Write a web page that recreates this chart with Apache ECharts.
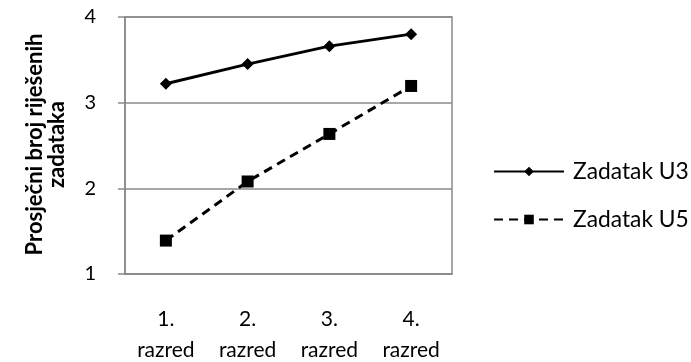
<!DOCTYPE html>
<html><head><meta charset="utf-8">
<script src="https://cdn.jsdelivr.net/npm/echarts@6/dist/echarts.min.js"></script>
<style>html,body{margin:0;padding:0;background:#fff}#c{width:691px;height:362px}</style>
</head><body><div id="c"></div>
<script>
const categories = ['1.\nrazred', '2.\nrazred', '3.\nrazred', '4.\nrazred'];
const seriesNames = ['Zadatak U3', 'Zadatak U5'];
const valuesU3 = [3.22, 3.45, 3.66, 3.80];
const valuesU5 = [1.39, 2.08, 2.635, 3.195];
const yTicks = [1, 2, 3, 4];
const yAxisTitle = 'Prosječni broj riješenih\nzadataka';

const font = 'Lato, "Open Sans", sans-serif';
const chart = echarts.init(document.getElementById('c'));
chart.setOption({
  animation: false,
  backgroundColor: '#fff',
  grid: { left: 125, right: 239, top: 17, bottom: 88, show: true, borderColor: '#8a8a8a', borderWidth: 1.5, containLabel: false, outerBoundsMode: 'none' },
  legend: {
    orient: 'vertical', left: 493, top: 160, padding: 0, itemGap: 25, itemWidth: 70, itemHeight: 12,
    textStyle: { fontFamily: font, fontSize: 22.8, color: '#000', padding: [0,0,0,4] },
    data: seriesNames
  },
  xAxis: {
    type: 'category', data: categories, boundaryGap: true,
    axisLine: { show: true, lineStyle: { color: '#8a8a8a', width: 1.5 } },
    axisTick: { show: false },
    axisLabel: { color: '#000', fontFamily: font, fontSize: 21, lineHeight: 31, margin: 30 }
  },
  yAxis: {
    type: 'value', min: yTicks[0], max: yTicks[yTicks.length-1], interval: 1,
    name: yAxisTitle, nameLocation: 'middle', nameGap: 57, nameRotate: 90,
    nameTextStyle: { fontFamily: font, fontSize: 22, fontWeight: 'bold', color: '#000', lineHeight: 22, padding: [0, 0, 0, 2] },
    axisLine: { show: true, lineStyle: { color: '#8a8a8a', width: 1.5 } },
    axisTick: { show: true, length: 7, lineStyle: { color: '#8a8a8a', width: 1.5 } },
    axisLabel: { color: '#000', fontFamily: font, fontSize: 20, margin: 29 },
    splitLine: { show: true, lineStyle: { color: '#8a8a8a', width: 1.5 } }
  },
  series: [
    { name: seriesNames[0], type: 'line', data: valuesU3, symbol: 'diamond', symbolSize: 12,
      lineStyle: { color: '#000', width: 3 }, itemStyle: { color: '#000' } },
    { name: seriesNames[1], type: 'line', data: valuesU5, symbol: 'rect', symbolSize: 12,
      lineStyle: { color: '#000', width: 3, type: [9, 6] }, itemStyle: { color: '#000' } }
  ]
});
</script></body></html>
